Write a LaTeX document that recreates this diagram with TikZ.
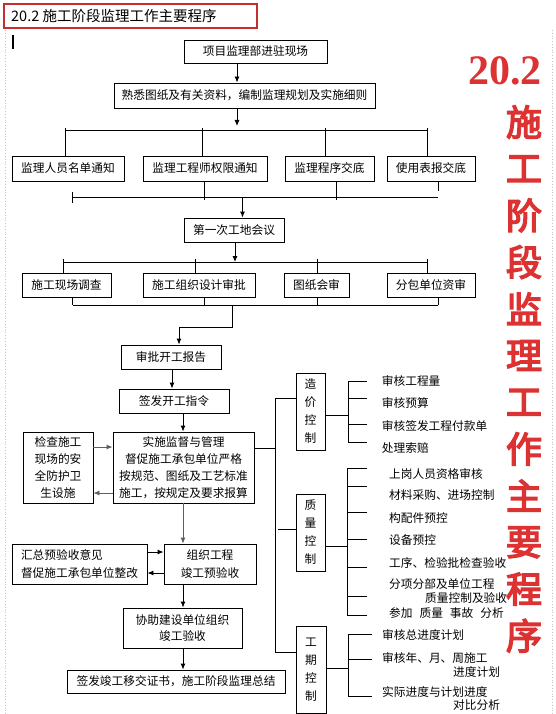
\documentclass[tikz,border=0pt]{standalone}
\usepackage{fontspec}
\setmainfont{Noto Sans CJK SC}
\newfontfamily\bigcjk[FakeBold=4]{Noto Sans CJK SC}
\newfontfamily\numfont{Liberation Serif}
\usetikzlibrary{arrows.meta}
\definecolor{titlered}{RGB}{220,50,50}
\definecolor{arrowgray}{RGB}{95,95,95}

\begin{document}
\begin{tikzpicture}[x=1pt,y=-1pt,
    font=\fontsize{11.7}{17}\selectfont,
    box/.style={draw,line width=0.9pt,inner sep=0pt,align=center},
    vbox/.style={box,font=\fontsize{11.7}{18}\selectfont},
    flow/.style={-{Latex[length=6pt,width=5pt]},line width=0.9pt},
    link/.style={line width=0.9pt},
    item/.style={anchor=west,inner sep=0pt}]

    \fill[white] (0,0) rectangle (555,714);
    \useasboundingbox (0,0) rectangle (555,714);

    \draw[gray!45,dotted,line width=0.8pt] (5,30) -- (5,714);
    \draw[gray!45,dotted,line width=0.8pt] (552,30) -- (552,714);

    % title
    \draw[titlered!90!black,line width=2.8pt] (4,4) rectangle (257,28);
    \node[anchor=west,inner sep=0pt,font=\fontsize{14.5}{14.5}\selectfont] (title) at (11,16) {20.2 施工阶段监理工作主要程序};
    \draw[line width=2pt] (13,35) -- (13,49);

    \node[titlered,inner sep=0pt,font=\numfont\bfseries\fontsize{42}{42}\selectfont] (num) at (505,71) {20.2};
    \foreach \c [count=\i from 0] in {施,工,阶,段,监,理,工,作,主,要,程,序}
        \node[titlered,inner sep=0pt,font=\bigcjk\fontsize{36}{36}\selectfont] (big\i) at (524,122+46.7*\i) {\c};

    % main column
    \node[box,minimum width=143pt,minimum height=23pt] (enter) at (255.5,51.5) {项目监理部进驻现场};
    \node[box,minimum width=261pt,minimum height=25pt] (plan) at (244.5,95.5) {熟悉图纸及有关资料，编制监理规划及实施细则};

    \node[box,minimum width=112pt,minimum height=25pt] (names) at (68,168.5) {监理人员名单通知};
    \node[box,minimum width=124pt,minimum height=25pt] (power) at (205,168.5) {监理工程师权限通知};
    \node[box,minimum width=89pt,minimum height=25pt] (proc) at (329.5,168.5) {监理程序交底};
    \node[box,minimum width=88pt,minimum height=25pt] (forms) at (431,168.5) {使用表报交底};

    \node[box,minimum width=100pt,minimum height=24pt] (meet) at (234,230) {第一次工地会议};

    \node[box,minimum width=89pt,minimum height=24pt] (survey) at (66.5,285) {施工现场调查};
    \node[box,minimum width=112pt,minimum height=24pt] (design) at (199,285) {施工组织设计审批};
    \node[box,minimum width=65pt,minimum height=24pt] (drawing) at (316.5,285) {图纸会审};
    \node[box,minimum width=88pt,minimum height=24pt] (subcon) at (431,285) {分包单位资审};

    \node[box,minimum width=100pt,minimum height=24pt] (report) at (171,357) {审批开工报告};
    \node[box,minimum width=110pt,minimum height=24pt] (order) at (174,401) {签发开工指令};
    \node[box,minimum width=141pt,minimum height=71pt] (supv) at (183.5,467.5)
        {实施监督与管理\\督促施工承包单位严格\\按规范、图纸及工艺标准\\施工，按规定及要求报算};
    \node[box,minimum width=70pt,minimum height=71pt] (safe) at (58,467.5) {检查施工\\现场的安\\全防护卫\\生设施};

    \node[box,minimum width=92pt,minimum height=40pt,font=\fontsize{11.7}{18}\selectfont] (pre) at (210,564) {组织工程\\竣工预验收};
    \node[box,align=left,minimum width=135pt,minimum height=40pt,font=\fontsize{11.7}{18}\selectfont] (fix) at (79.5,564) {汇总预验收意见\\督促施工承包单位整改};
    \node[box,minimum width=119pt,minimum height=40pt,font=\fontsize{11.7}{16}\selectfont] (assist) at (182.5,628) {协助建设单位组织\\竣工验收};
    \node[box,minimum width=218pt,minimum height=23pt] (final) at (176,681.5) {签发竣工移交证书，施工阶段监理总结};

    \node[vbox,minimum width=29pt,minimum height=77pt] (cost) at (310.5,411.5) {造\\价\\控\\制};
    \node[vbox,minimum width=29pt,minimum height=77pt] (qual) at (310.5,532.5) {质\\量\\控\\制};
    \node[vbox,minimum width=30pt,minimum height=87pt] (time) at (311,669.5) {工\\期\\控\\制};

    % top part
    \draw[flow] (enter.south -| 237,0) -- (plan.north -| 237,0);
    \draw[flow] (plan.south -| 237,0) -- (237,126);
    \draw[link] (65,130.5) -- (427,130.5);
    \foreach \x/\n in {65/names,202/power,325/proc,427/forms}
        \draw[link] (\x,128) -- (\n.north -| \x,0);

    \draw[link] (72,197.5) -- (438,197.5);
    \draw[link] (72,192) -- (72,203);
    \foreach \x/\n in {204.6/power,336/proc}
        \draw[link] (\n.south -| \x,0) -- (\x,200);
    \draw[link] (forms.south -| 438,0) -- (438,191);
    \draw[flow] (242.5,197.5) -- (meet.north -| 242.5,0);

    \draw[flow] (meet.south -| 235,0) -- (235,262);
    \draw[link] (63,262) -- (427.6,262);
    \foreach \x/\n in {63/survey,195/design,317/drawing,427.6/subcon}
        \draw[link] (\x,259) -- (\n.north -| \x,0);

    \draw[link] (72.6,305) -- (438,305);
    \foreach \x/\n in {72.6/survey,204.6/design,317/drawing,438/subcon}
        \draw[link] (\n.south -| \x,0) -- (\x,305);
    \draw[flow] (232,305) -- (232,327) -- (179,327) -- (report.north -| 179,0);

    % lower part
    \draw[flow] (report.south -| 172,0) -- (order.north -| 172,0);
    \draw[flow] (order.south -| 183,0) -- (supv.north -| 183,0);
    \draw[flow,arrowgray] (safe.east |- 0,447) -- (supv.west |- 0,447);
    \draw[flow,arrowgray] (supv.west |- 0,493) -- (safe.east |- 0,493);
    \draw[flow,arrowgray] (supv.south -| 183,0) -- (pre.north -| 183,0);
    \draw[flow] (fix.east |- 0,552) -- (pre.west |- 0,552);
    \draw[flow] (pre.west |- 0,573) -- (fix.east |- 0,573);
    \draw[flow] (pre.south -| 183,0) -- (assist.north -| 183,0);
    \draw[flow] (assist.south -| 183,0) -- (final.north -| 183,0);

    % control branches
    \draw[link] (supv.east |- 0,448) -- (275,448);
    \draw[link] (275,398) -- (275,652);
    \draw[link] (275,398) -- (cost.west |- 0,398);
    \draw[link] (278,529) -- (qual.west |- 0,529);
    \draw[link] (275,652) -- (time.west |- 0,652);

    \draw[link] (cost.east |- 0,415) -- (348,415);
    \draw[link] (348,381) -- (348,442);
    \foreach \y in {381,398,424,442}
        \draw[link] (348,\y) -- (367,\y);
    \foreach \y/\t [count=\i] in {381/审核工程量,403/审核预算,426/审核签发工程付款单,448/处理索赔}
        \node[item] (cost\i) at (381.7,\y) {\t};

    \draw[link] (qual.east |- 0,546) -- (347,546);
    \draw[link] (347,468) -- (347,615);
    \foreach \y in {468,486,512,539,567,596,615}
        \draw[link] (347,\y) -- (367,\y);
    \foreach \y/\t [count=\i] in {474/上岗人员资格审核,495/材料采购、进场控制,518/构配件预控,540/设备预控,563/工序、检验批检查验收,584/分项分部及单位工程}
        \node[item] (qual\i) at (389,\y) {\t};
    \node[item] (qual6b) at (425,598) {质量控制及验收};
    \node[item] (qual7) at (389,613) {参加\hspace{7pt}质量\hspace{7pt}事故\hspace{7pt}分析};

    \draw[link] (time.east |- 0,668) -- (348,668);
    \draw[link] (348,634) -- (348,696);
    \foreach \y in {634,659,696}
        \draw[link] (348,\y) -- (372,\y);
    \node[item] (time1) at (382,635) {审核总进度计划};
    \node[item] (time2) at (382,658) {审核年、月、周施工};
    \node[item] (time2b) at (453,672) {进度计划};
    \node[item] (time3) at (382,692) {实际进度与计划进度};
    \node[item] (time3b) at (453,705) {对比分析};
\end{tikzpicture}
\end{document}
